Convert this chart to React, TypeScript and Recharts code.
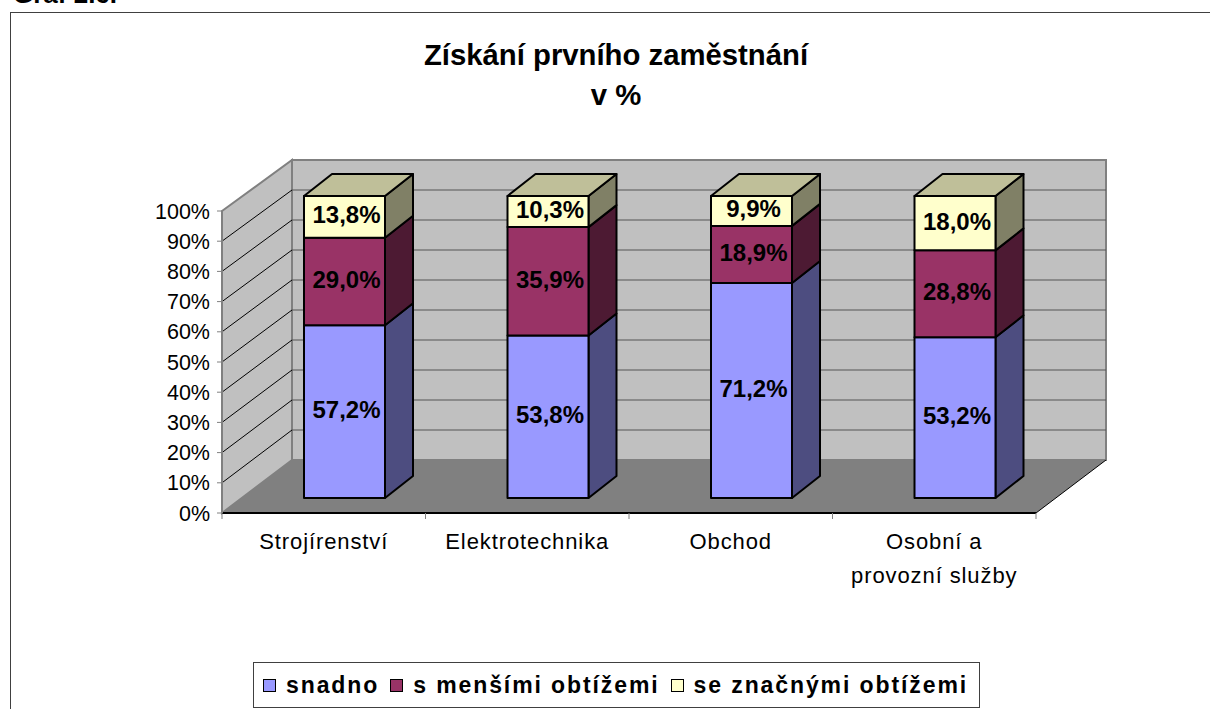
import { BarChart, Bar, XAxis, YAxis, LabelList, Legend, Customized } from 'recharts';

const categories = ['Strojírenství', 'Elektrotechnika', 'Obchod', 'Osobní a|provozní služby'];
const snadno = [57.2, 53.8, 71.2, 53.2];
const mensimi = [29.0, 35.9, 18.9, 28.8];
const znacnymi = [13.8, 10.3, 9.9, 18.0];
const yTicks = [0, 10, 20, 30, 40, 50, 60, 70, 80, 90, 100];

const data = categories.map((category, i) => ({
  category,
  snadno: snadno[i],
  mensimi: mensimi[i],
  znacnymi: znacnymi[i],
}));

const FONT = '"Liberation Sans", Arial, sans-serif';
const PLOT = { left: 222, top: 211, right: 1036, bottom: 513 };
// back wall of the 3D box, and where the bars stand on the floor
const BACK = { left: 292, top: 160, right: 1106, bottom: 460 };
const BAR_DX = 21;
const BAR_DY = 15;
const BAR_DEPTH_X = 28;
const BAR_DEPTH_Y = 22;

function Bar3D(props: any) {
  const { x, y, width, height, fill, sideFill, topFill } = props;
  const l = x + BAR_DX;
  const r = l + width;
  const t = y - BAR_DY;
  const b = t + height;
  const line = { stroke: '#000', strokeWidth: 2, strokeLinejoin: 'round' as const };
  return (
    <g>
      <polygon
        points={`${r},${t} ${r + BAR_DEPTH_X},${t - BAR_DEPTH_Y} ${r + BAR_DEPTH_X},${b - BAR_DEPTH_Y} ${r},${b}`}
        fill={sideFill}
        {...line}
      />
      {topFill && (
        <polygon
          points={`${l},${t} ${l + BAR_DEPTH_X},${t - BAR_DEPTH_Y} ${r + BAR_DEPTH_X},${t - BAR_DEPTH_Y} ${r},${t}`}
          fill={topFill}
          {...line}
        />
      )}
      <rect x={l} y={t} width={width} height={height} fill={fill} {...line} />
    </g>
  );
}

function BarValue(props: any) {
  const { x, y, width, height, value } = props;
  return (
    <text
      x={x + BAR_DX + width / 2 + 2}
      y={y - BAR_DY + height / 2 - 2}
      textAnchor="middle"
      dominantBaseline="central"
      fontFamily={FONT}
      fontSize={24}
      fontWeight="bold"
      fill="#000"
    >
      {value.toFixed(1).replace('.', ',')}%
    </text>
  );
}

function CategoryTick(props: any) {
  const { x, y, payload } = props;
  return (
    <text x={x} textAnchor="middle" fontFamily={FONT} fontSize={22} letterSpacing={0.9} fill="#000">
      {payload.value.split('|').map((part: string, i: number) => (
        <tspan key={part} x={x} y={y + 28 + i * 34}>
          {part}
        </tspan>
      ))}
    </text>
  );
}

// 3D box behind the bars: side wall, back wall, floor, gridlines
function Walls() {
  const { left, top, right, bottom } = PLOT;
  const band = (right - left) / categories.length;
  return (
    <g>
      <polygon
        points={`${left},${top} ${BACK.left},${BACK.top} ${BACK.left},${BACK.bottom} ${left},${bottom}`}
        fill="#C0C0C0"
        stroke="#808080"
        strokeWidth={2}
      />
      <rect
        x={BACK.left}
        y={BACK.top}
        width={BACK.right - BACK.left}
        height={BACK.bottom - BACK.top}
        fill="#C0C0C0"
        stroke="#808080"
        strokeWidth={2}
      />
      {yTicks.slice(1, -1).map((t) => {
        const front = bottom - (t / 100) * (bottom - top);
        const back = BACK.bottom - (t / 100) * (BACK.bottom - BACK.top);
        return (
          <g key={t}>
            <line x1={left} y1={front} x2={BACK.left} y2={back} stroke="#000" strokeWidth={1} />
            <line x1={BACK.left} y1={back} x2={BACK.right} y2={back} stroke="#555" strokeWidth={1} />
          </g>
        );
      })}
      <polygon
        points={`${left},${bottom} ${right},${bottom} ${BACK.right},${BACK.bottom} ${BACK.left},${BACK.bottom}`}
        fill="#808080"
      />
      <line x1={right} y1={bottom} x2={BACK.right} y2={BACK.bottom} stroke="#000" strokeWidth={1} />
      <line x1={left} y1={bottom} x2={right} y2={bottom} stroke="#000" strokeWidth={2} />
      <line x1={left} y1={top} x2={left} y2={bottom} stroke="#808080" strokeWidth={2} />
      {categories.map((_, i) => i).concat(categories.length).map((i) => (
        <line
          key={i}
          x1={left + i * band}
          y1={bottom}
          x2={left + i * band}
          y2={bottom + 6}
          stroke="#808080"
          strokeWidth={1}
        />
      ))}
    </g>
  );
}

function ChartLegend(props: any) {
  const { payload } = props;
  return (
    <div
      style={{
        boxSizing: 'border-box',
        width: 727,
        height: 46,
        border: '1px solid #404040',
        background: '#fff',
        display: 'flex',
        alignItems: 'center',
        paddingLeft: 9,
        fontFamily: FONT,
        fontSize: 23,
        fontWeight: 'bold',
        letterSpacing: 1.9,
        whiteSpace: 'nowrap',
        color: '#000',
      }}
    >
      {(payload || []).map((item: any) => (
        <span key={item.value} style={{ display: 'flex', alignItems: 'center', marginRight: 11, flexShrink: 0 }}>
          <span
            style={{
              display: 'inline-block',
              boxSizing: 'border-box',
              width: 13,
              height: 13,
              border: '1px solid #000',
              background: item.color,
              marginRight: 10,
            }}
          />
          {item.value}
        </span>
      ))}
    </div>
  );
}

export default function App() {
  return (
    <div
      style={{
        position: 'absolute',
        left: 0,
        top: 0,
        width: 1210,
        height: 709,
        overflow: 'hidden',
        background: '#fff',
        fontFamily: FONT,
      }}
    >
      <div style={{ position: 'absolute', left: 13, top: -21, fontSize: 26, fontWeight: 'bold' }}>Graf 2.6.</div>
      <div
        style={{
          position: 'absolute',
          left: 10,
          top: 12,
          width: 1300,
          height: 800,
          border: '1px solid #404040',
        }}
      />
      <div
        style={{
          position: 'absolute',
          left: 316,
          width: 600,
          top: 35,
          textAlign: 'center',
          fontSize: 29.3,
          fontWeight: 'bold',
          lineHeight: '40px',
        }}
      >
        Získání prvního zaměstnání
        <br />v %
      </div>
      <BarChart
        width={1210}
        height={709}
        data={data}
        margin={{ top: PLOT.top, left: PLOT.left - 60, right: 1210 - PLOT.right, bottom: 709 - PLOT.bottom - 60 }}
        style={{ position: 'absolute', left: 0, top: 0 }}
      >
        <Customized component={Walls} />
        <XAxis dataKey="category" height={60} axisLine={false} tickLine={false} interval={0} tick={<CategoryTick />} />
        <YAxis
          width={60}
          domain={[0, 100]}
          ticks={yTicks}
          axisLine={false}
          tick={{ fontFamily: FONT, fontSize: 21.5, fill: '#000' }}
          tickLine={{ stroke: '#808080' }}
          tickSize={5}
          tickMargin={7}
          tickFormatter={(v: number) => `${v}%`}
        />
        <Legend
          layout="vertical"
          align="center"
          verticalAlign="middle"
          itemSorter={null}
          content={<ChartLegend />}
          wrapperStyle={{ left: 253, top: 662, width: 727, height: 46 }}
        />
        <Bar
          dataKey="snadno"
          name="snadno"
          stackId="a"
          barSize={81}
          fill="#9999FF"
          isAnimationActive={false}
          shape={<Bar3D sideFill="#4D4D80" />}
        >
          <LabelList dataKey="snadno" content={<BarValue />} />
        </Bar>
        <Bar
          dataKey="mensimi"
          name="s menšími obtížemi"
          stackId="a"
          barSize={81}
          fill="#993366"
          isAnimationActive={false}
          shape={<Bar3D sideFill="#4D1A33" />}
        >
          <LabelList dataKey="mensimi" content={<BarValue />} />
        </Bar>
        <Bar
          dataKey="znacnymi"
          name="se značnými obtížemi"
          stackId="a"
          barSize={81}
          fill="#FFFFCC"
          isAnimationActive={false}
          shape={<Bar3D sideFill="#808066" topFill="#BFBF99" />}
        >
          <LabelList dataKey="znacnymi" content={<BarValue />} />
        </Bar>
      </BarChart>
    </div>
  );
}
